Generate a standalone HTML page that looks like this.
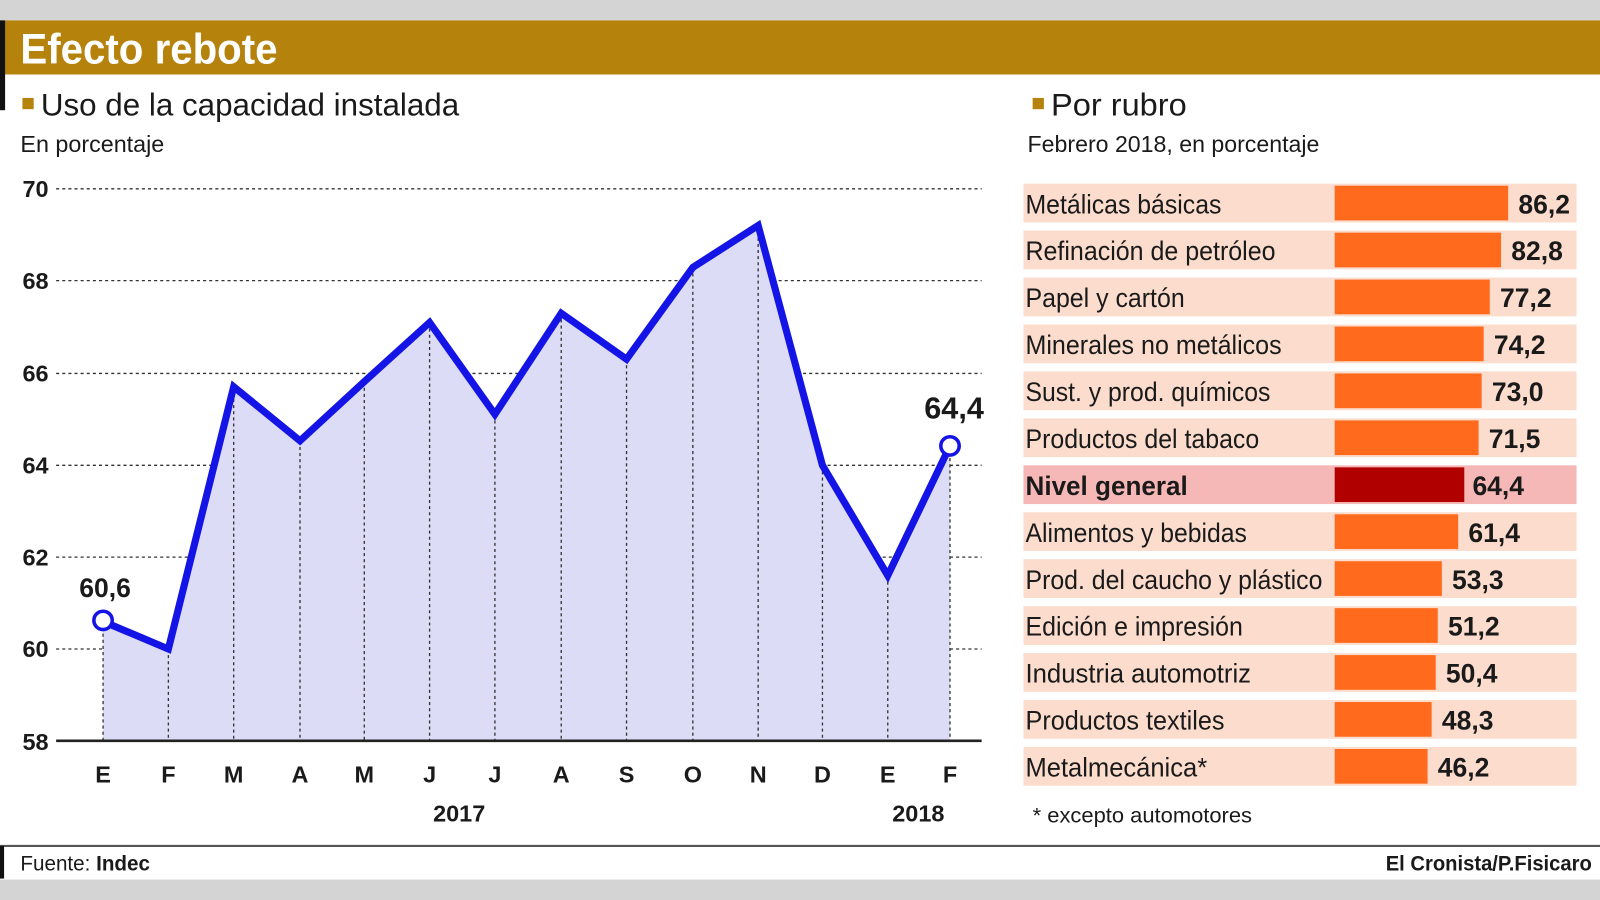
<!DOCTYPE html>
<html><head><meta charset="utf-8"><style>
html,body{margin:0;padding:0;background:#fff;}
svg{display:block;}
text{font-family:"Liberation Sans",sans-serif;fill:#1a1a1a;}
</style></head><body>
<svg width="1600" height="900" viewBox="0 0 1568 882" xmlns="http://www.w3.org/2000/svg">
<rect x="0" y="0" width="1568" height="882" fill="#fff"/>
<rect x="0" y="0" width="1568" height="20" fill="#d4d4d4"/>
<rect x="0" y="20" width="1568" height="53" fill="#b5820b"/>
<rect x="0" y="20" width="5" height="88" fill="#111"/>
<text x="20" y="62" font-size="42" font-weight="bold" style="fill:#fff" textLength="252" lengthAdjust="spacingAndGlyphs">Efecto rebote</text>
<rect x="22" y="96" width="11" height="11" fill="#b5820b"/>
<text x="40" y="113" font-size="31" textLength="410" lengthAdjust="spacingAndGlyphs">Uso de la capacidad instalada</text>
<text x="20" y="149" font-size="23" textLength="141" lengthAdjust="spacingAndGlyphs">En porcentaje</text>
<g font-size="23" font-weight="bold">
<text x="22" y="193">70</text><text x="22" y="283">68</text><text x="22" y="374">66</text>
<text x="22" y="464">64</text><text x="22" y="554">62</text><text x="22" y="644">60</text><text x="22" y="735">58</text>
</g>
<g stroke="#333" stroke-width="1.3" stroke-dasharray="3,3">
<line x1="55" y1="185" x2="962" y2="185"/><line x1="55" y1="275" x2="962" y2="275"/>
<line x1="55" y1="366" x2="962" y2="366"/><line x1="55" y1="456" x2="962" y2="456"/>
<line x1="55" y1="546" x2="962" y2="546"/><line x1="55" y1="636" x2="962" y2="636"/>
</g>
<polygon fill="#dcdcf6" points="101,609 165,636 229,379 294,432 357,374 421,316 485,406 550,307 614,352 679,262 743,221 806,456 870,564 931,437 931,726 101,726"/>
<g stroke="#333" stroke-width="1.3" stroke-dasharray="3,3">
<line x1="101" y1="609" x2="101" y2="726"/><line x1="165" y1="636" x2="165" y2="726"/>
<line x1="229" y1="379" x2="229" y2="726"/><line x1="294" y1="432" x2="294" y2="726"/>
<line x1="357" y1="374" x2="357" y2="726"/><line x1="421" y1="316" x2="421" y2="726"/>
<line x1="485" y1="406" x2="485" y2="726"/><line x1="550" y1="307" x2="550" y2="726"/>
<line x1="614" y1="352" x2="614" y2="726"/><line x1="679" y1="262" x2="679" y2="726"/>
<line x1="743" y1="221" x2="743" y2="726"/><line x1="806" y1="456" x2="806" y2="726"/>
<line x1="870" y1="564" x2="870" y2="726"/><line x1="931" y1="437" x2="931" y2="726"/>
</g>
<line x1="55" y1="726" x2="962" y2="726" stroke="#222" stroke-width="2.5"/>
<polyline fill="none" stroke="#1414e6" stroke-width="7" stroke-linejoin="miter" points="101,609 165,636 229,379 294,432 357,374 421,316 485,406 550,307 614,352 679,262 743,221 806,456 870,564 931,437"/>
<circle cx="101" cy="608" r="9" fill="#fff" stroke="#1414e6" stroke-width="3.5"/>
<circle cx="931" cy="437" r="9" fill="#fff" stroke="#1414e6" stroke-width="3.5"/>
<text x="103" y="585" font-size="26" font-weight="bold" text-anchor="middle">60,6</text>
<text x="935" y="410" font-size="30" font-weight="bold" text-anchor="middle">64,4</text>
<g font-size="23" font-weight="bold" text-anchor="middle">
<text x="101" y="767">E</text><text x="165" y="767">F</text><text x="229" y="767">M</text><text x="294" y="767">A</text>
<text x="357" y="767">M</text><text x="421" y="767">J</text><text x="485" y="767">J</text><text x="550" y="767">A</text>
<text x="614" y="767">S</text><text x="679" y="767">O</text><text x="743" y="767">N</text><text x="806" y="767">D</text>
<text x="870" y="767">E</text><text x="931" y="767">F</text>
<text x="450" y="805">2017</text><text x="900" y="805">2018</text>
</g>
<rect x="1012" y="96" width="11" height="11" fill="#b5820b"/>
<text x="1030" y="113" font-size="31" textLength="133" lengthAdjust="spacingAndGlyphs">Por rubro</text>
<text x="1007" y="149" font-size="23" textLength="286" lengthAdjust="spacingAndGlyphs">Febrero 2018, en porcentaje</text>
<g font-size="26">
<rect x="1003" y="180" width="542" height="38" fill="#fbdccd"/><rect x="1308" y="182" width="170" height="34" fill="#ff6a1c"/><text x="1005" y="209" textLength="192" lengthAdjust="spacingAndGlyphs">Metálicas básicas</text><text x="1488" y="209" font-weight="bold">86,2</text>
<rect x="1003" y="226" width="542" height="38" fill="#fbdccd"/><rect x="1308" y="228" width="163" height="34" fill="#ff6a1c"/><text x="1005" y="255" textLength="245" lengthAdjust="spacingAndGlyphs">Refinación de petróleo</text><text x="1481" y="255" font-weight="bold">82,8</text>
<rect x="1003" y="272" width="542" height="38" fill="#fbdccd"/><rect x="1308" y="274" width="152" height="34" fill="#ff6a1c"/><text x="1005" y="301" textLength="156" lengthAdjust="spacingAndGlyphs">Papel y cartón</text><text x="1470" y="301" font-weight="bold">77,2</text>
<rect x="1003" y="318" width="542" height="38" fill="#fbdccd"/><rect x="1308" y="320" width="146" height="34" fill="#ff6a1c"/><text x="1005" y="347" textLength="251" lengthAdjust="spacingAndGlyphs">Minerales no metálicos</text><text x="1464" y="347" font-weight="bold">74,2</text>
<rect x="1003" y="364" width="542" height="38" fill="#fbdccd"/><rect x="1308" y="366" width="144" height="34" fill="#ff6a1c"/><text x="1005" y="393" textLength="240" lengthAdjust="spacingAndGlyphs">Sust. y prod. químicos</text><text x="1462" y="393" font-weight="bold">73,0</text>
<rect x="1003" y="410" width="542" height="38" fill="#fbdccd"/><rect x="1308" y="412" width="141" height="34" fill="#ff6a1c"/><text x="1005" y="439" textLength="229" lengthAdjust="spacingAndGlyphs">Productos del tabaco</text><text x="1459" y="439" font-weight="bold">71,5</text>
<rect x="1003" y="456" width="542" height="38" fill="#f6b8b6"/><rect x="1308" y="458" width="127" height="34" fill="#b10000"/><text x="1005" y="485" font-weight="bold" textLength="159" lengthAdjust="spacingAndGlyphs">Nivel general</text><text x="1443" y="485" font-weight="bold">64,4</text>
<rect x="1003" y="502" width="542" height="38" fill="#fbdccd"/><rect x="1308" y="504" width="121" height="34" fill="#ff6a1c"/><text x="1005" y="531" textLength="217" lengthAdjust="spacingAndGlyphs">Alimentos y bebidas</text><text x="1439" y="531" font-weight="bold">61,4</text>
<rect x="1003" y="548" width="542" height="38" fill="#fbdccd"/><rect x="1308" y="550" width="105" height="34" fill="#ff6a1c"/><text x="1005" y="577" textLength="291" lengthAdjust="spacingAndGlyphs">Prod. del caucho y plástico</text><text x="1423" y="577" font-weight="bold">53,3</text>
<rect x="1003" y="594" width="542" height="38" fill="#fbdccd"/><rect x="1308" y="596" width="101" height="34" fill="#ff6a1c"/><text x="1005" y="623" textLength="213" lengthAdjust="spacingAndGlyphs">Edición e impresión</text><text x="1419" y="623" font-weight="bold">51,2</text>
<rect x="1003" y="640" width="542" height="38" fill="#fbdccd"/><rect x="1308" y="642" width="99" height="34" fill="#ff6a1c"/><text x="1005" y="669" textLength="221" lengthAdjust="spacingAndGlyphs">Industria automotriz</text><text x="1417" y="669" font-weight="bold">50,4</text>
<rect x="1003" y="686" width="542" height="38" fill="#fbdccd"/><rect x="1308" y="688" width="95" height="34" fill="#ff6a1c"/><text x="1005" y="715" textLength="195" lengthAdjust="spacingAndGlyphs">Productos textiles</text><text x="1413" y="715" font-weight="bold">48,3</text>
<rect x="1003" y="732" width="542" height="38" fill="#fbdccd"/><rect x="1308" y="734" width="91" height="34" fill="#ff6a1c"/><text x="1005" y="761" textLength="178" lengthAdjust="spacingAndGlyphs">Metalmecánica*</text><text x="1409" y="761" font-weight="bold">46,2</text>
</g>
<text x="1012" y="806" font-size="21" textLength="215" lengthAdjust="spacingAndGlyphs">* excepto automotores</text>
<line x1="0" y1="829" x2="1568" y2="829" stroke="#555" stroke-width="2"/>
<rect x="0" y="829" width="4" height="32" fill="#111"/>
<text x="20" y="853" font-size="21" textLength="127" lengthAdjust="spacingAndGlyphs">Fuente: <tspan font-weight="bold">Indec</tspan></text>
<text x="1560" y="853" font-size="21" font-weight="bold" text-anchor="end" textLength="202" lengthAdjust="spacingAndGlyphs">El Cronista/P.Fisicaro</text>
<rect x="0" y="862" width="1568" height="20" fill="#d4d4d4"/>
</svg>
</body></html>
